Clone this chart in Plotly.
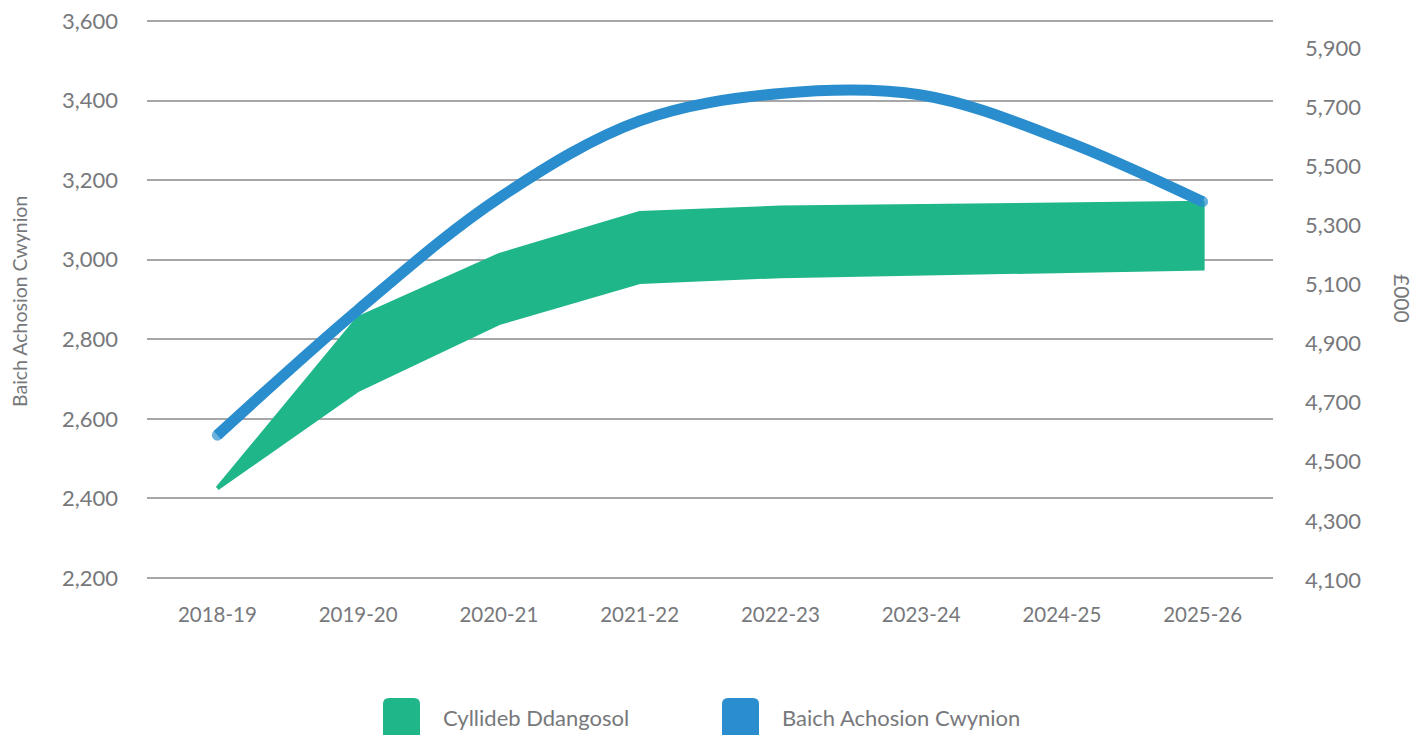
import plotly.graph_objects as go

categories = ["2018-19", "2019-20", "2020-21", "2021-22", "2022-23", "2023-24", "2024-25", "2025-26"]
caseload = [2559, 2874, 3155, 3349, 3418, 3414, 3302, 3146]           # Baich Achosion Cwynion (left axis)
budget_upper = [4410, 4986, 5199, 5342, 5360, 5366, 5371, 5376]       # Cyllideb Ddangosol upper (£000)
budget_lower = [4410, 4743, 4969, 5108, 5128, 5137, 5146, 5154]       # Cyllideb Ddangosol lower (£000)
left_ticks = [2200, 2400, 2600, 2800, 3000, 3200, 3400, 3600]
right_ticks = [4100, 4300, 4500, 4700, 4900, 5100, 5300, 5500, 5700, 5900]

GREEN = "#1FB68A"
BLUE = "#2A8ECE"
GREY = "#77787B"
GRID = "#A7A7A9"
FONT = "Lato"

# The page body has an 8px margin, so the figure is made 8px smaller and offset accordingly.
W, H = 1420, 727
PL, PT, PW, PH = 147, 18, 1126, 563   # plot area in window pixels (3px padding around outer gridlines)
k = 1400 / 557                          # left-axis units per pixel

fig = go.Figure()

# Budget band (right axis, £000) -> drawn on base axis 'y' so that it sits beneath the line
fig.add_trace(go.Scatter(
    x=categories + categories[::-1],
    y=budget_upper + budget_lower[::-1],
    fill="toself", fillcolor=GREEN,
    line=dict(color=GREEN, width=4),
    mode="lines", yaxis="y", showlegend=False, hoverinfo="skip",
))

# Caseload line (left axis) on overlaying axis 'y2'
n = len(categories)
fig.add_trace(go.Scatter(
    x=categories, y=caseload, yaxis="y2",
    mode="lines+markers",
    line=dict(color=BLUE, width=11, shape="spline", smoothing=1.0),
    marker=dict(color=BLUE, size=[11] + [0] * (n - 2) + [11], line=dict(width=0)),
    showlegend=False,
))

fig.update_layout(
    width=W, height=H,
    margin=dict(l=PL - 8, r=W - (PL - 8) - PW, t=PT - 8, b=H - (PT - 8) - PH, autoexpand=False),
    paper_bgcolor="white", plot_bgcolor="white",
    font=dict(family=FONT, color=GREY, size=20),
    showlegend=False,
    xaxis=dict(
        type="category", range=[-0.5, 7.5], automargin=False,
        showgrid=False, zeroline=False, showline=False,
        tickfont=dict(size=20.5, color=GREY), ticklabelstandoff=19,
    ),
    yaxis=dict(
        side="right", range=[4096.6, 6001.5], automargin=False,
        tickvals=right_ticks, ticktext=[f"{v:,}" for v in right_ticks],
        showgrid=False, zeroline=False, showline=False, ticklabeloverflow="allow",
        tickfont=dict(size=22, color=GREY), ticklabelstandoff=31,
    ),
    yaxis2=dict(
        overlaying="y", side="left", range=[2200 - 3 * k, 3600 + 3 * k], automargin=False,
        tickvals=left_ticks, ticktext=[f"{v:,}" for v in left_ticks],
        showgrid=True, gridcolor=GRID, gridwidth=1.6, ticklabeloverflow="allow",
        zeroline=False, showline=False,
        tickfont=dict(size=22, color=GREY), ticklabelstandoff=28,
    ),
)

def px_x(px):
    return (px - PL) / PW

def px_y(py):
    return (PT + PH - py) / PH

# Axis titles
fig.add_annotation(text="Baich Achosion Cwynion", textangle=-90, xref="paper", yref="paper",
                   x=px_x(19), y=px_y(302), xanchor="center", yanchor="middle",
                   showarrow=False, font=dict(size=19.5, color=GREY, family=FONT))
fig.add_annotation(text="£000", textangle=90, xref="paper", yref="paper",
                   x=px_x(1403), y=px_y(298), xanchor="center", yanchor="middle",
                   showarrow=False, font=dict(size=21, color=GREY, family=FONT))

# Custom legend (large rounded swatches)
def rounded_rect(x0p, y0p, x1p, y1p, r=6):
    x0, x1 = px_x(x0p), px_x(x1p)
    yt, yb = px_y(y0p), px_y(y1p)
    rx, ry = r / PW, r / PH
    return (f"M {x0+rx},{yt} L {x1-rx},{yt} Q {x1},{yt} {x1},{yt-ry} "
            f"L {x1},{yb+ry} Q {x1},{yb} {x1-rx},{yb} L {x0+rx},{yb} "
            f"Q {x0},{yb} {x0},{yb+ry} L {x0},{yt-ry} Q {x0},{yt} {x0+rx},{yt} Z")

legend_items = [("Cyllideb Ddangosol", GREEN, 383), ("Baich Achosion Cwynion", BLUE, 722)]
for label, color, x0 in legend_items:
    fig.add_shape(type="path", xref="paper", yref="paper",
                  path=rounded_rect(x0, 698, x0 + 37, 740),
                  fillcolor=color, line=dict(width=0))
    fig.add_annotation(text=label, xref="paper", yref="paper",
                       x=px_x(x0 + 58), y=px_y(717), xanchor="left", yanchor="middle",
                       showarrow=False, font=dict(size=22, color=GREY, family=FONT))

fig.write_html("out.html")
